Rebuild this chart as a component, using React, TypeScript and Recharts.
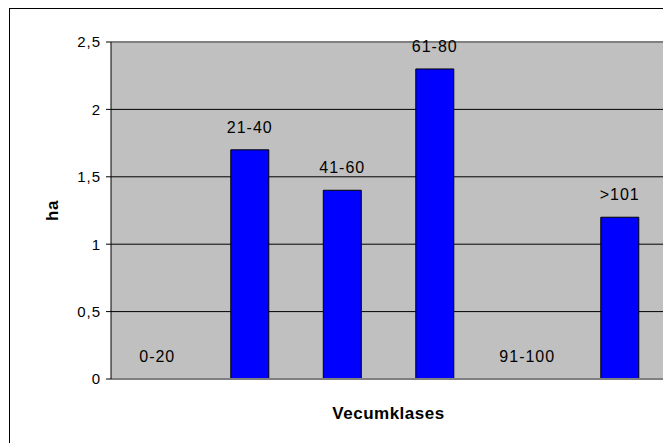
import React from "react";
import { ComposedChart, Bar, Line, XAxis, YAxis, CartesianGrid, LabelList, ReferenceLine } from "recharts";

const classes = ["0-20", "21-40", "41-60", "61-80", "91-100", ">101"];
const areaHa = [0, 1.7, 1.4, 2.3, 0, 1.2];
const yTicks = [0, 0.5, 1, 1.5, 2, 2.5];

const data = classes.map((name, i) => ({ name, ha: areaHa[i] }));

const font = "'Liberation Sans', Arial, sans-serif";
const fmtComma = (v: number) => String(v).replace(".", ",");

function YTitle({ viewBox }: any) {
  const x = viewBox.x + 8;
  const y = viewBox.y + viewBox.height / 2;
  return (
    <text x={x} y={y} transform={`rotate(-90, ${x}, ${y})`} textAnchor="middle" dominantBaseline="central"
      fontFamily={font} fontWeight="bold" fontSize={17} letterSpacing={0.5} fill="#000">
      ha
    </text>
  );
}

export default function App() {
  return (
    <div style={{ position: "relative", width: 663, height: 435, fontFamily: font }}>
      <div style={{ position: "absolute", left: 1, top: 0, width: 670, height: 440, borderTop: "1px solid #000", borderLeft: "1px solid #000" }} />
      <ComposedChart
        width={663}
        height={435}
        data={data}
        margin={{ top: 34, right: 5, bottom: 0, left: 36 }}
        barCategoryGap="29.5%"
      >
        <CartesianGrid vertical={false} horizontal fill="#C0C0C0" fillOpacity={1} stroke="#000" />
        <XAxis
          dataKey="name"
          tick={false}
          tickLine={false}
          axisLine={{ stroke: "#808080", strokeWidth: 2 }}
          height={64}
          label={{ value: "Vecumklases", position: "insideTop", offset: 28, fontFamily: font, fontWeight: "bold", fontSize: 17, letterSpacing: 0.5, fill: "#000" }}
        />
        <YAxis
          domain={[0, 2.5]}
          ticks={yTicks}
          tickFormatter={fmtComma}
          width={67}
          tickSize={5}
          tickMargin={5}
          axisLine={{ stroke: "#000" }}
          tickLine={{ stroke: "#000" }}
          tick={{ fontFamily: font, fontSize: 15, letterSpacing: 1, fill: "#000" }}
          label={<YTitle />}
        />
        <YAxis yAxisId="r" orientation="right" width={0} domain={[0, 2.5]} tick={false} tickLine={false} axisLine={{ stroke: "#808080", strokeWidth: 2 }} />
        <ReferenceLine y={2.5} stroke="#808080" strokeWidth={2} />
        <Bar dataKey="ha" fill="#0000FF" stroke="#000" strokeWidth={1} isAnimationActive={false} />
        {/* invisible line only carries the category labels, incl. zero-value classes */}
        <Line dataKey="ha" stroke="none" dot={false} activeDot={false} legendType="none" isAnimationActive={false}>
          <LabelList dataKey="name" position="top" offset={17} fontFamily={font} fontSize={16} letterSpacing={1} fill="#000" />
        </Line>
      </ComposedChart>
    </div>
  );
}
